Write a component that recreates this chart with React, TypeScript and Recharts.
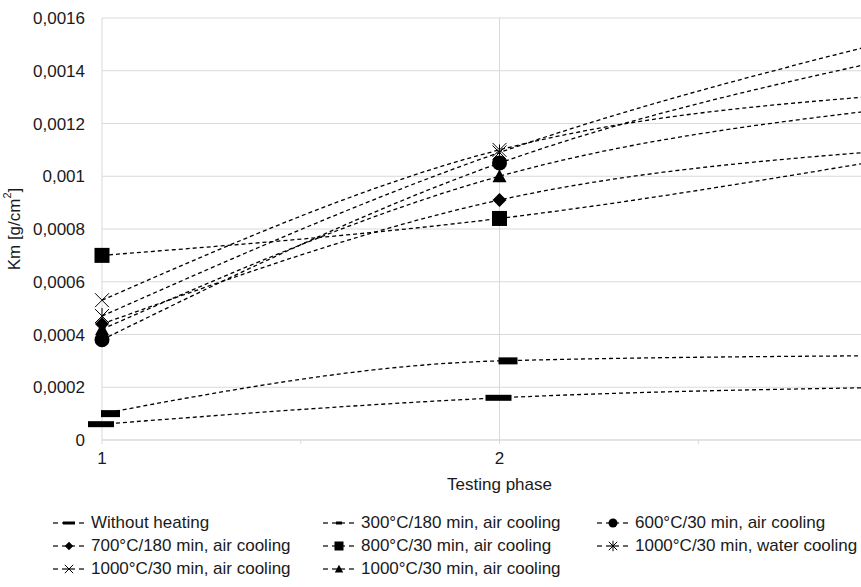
import React from 'react';
import { LineChart, Line, XAxis, YAxis, CartesianGrid, Label } from 'recharts';

// ---- data ----
const phases = [1, 2, 3];
const withoutHeating = [0.00006, 0.00016, 0.0002];
const c300_180 = [0.0001, 0.0003, 0.00032];
const c600_30 = [0.00038, 0.00105, 0.00145];
const c700_180 = [0.00044, 0.00091, 0.0011];
const c800_30 = [0.0007, 0.00084, 0.00107];
const c1000_water = [0.00047, 0.00109, 0.00152];
const c1000_air = [0.00053, 0.0011, 0.00131];
const c1000_air2 = [0.00042, 0.001, 0.00126];

const seriesNames = [
  'Without heating',
  '300°C/180 min, air cooling',
  '600°C/30 min, air cooling',
  '700°C/180 min, air cooling',
  '800°C/30 min, air cooling',
  '1000°C/30 min, water cooling',
  '1000°C/30 min, air cooling',
  '1000°C/30 min, air cooling',
];
const seriesValues = [withoutHeating, c300_180, c600_30, c700_180, c800_30, c1000_water, c1000_air, c1000_air2];
const markerKinds = ['wideBar', 'shortBar', 'circle', 'diamond', 'square', 'asterisk', 'cross', 'triangle'];

const xTicks = [1, 1.5, 2, 2.5, 3];
const xTickLabels = ['1', '', '2', '', ''];
const yTicks = [0, 0.0002, 0.0004, 0.0006, 0.0008, 0.001, 0.0012, 0.0014, 0.0016];
const yTickLabels = ['0', '0,0002', '0,0004', '0,0006', '0,0008', '0,001', '0,0012', '0,0014', '0,0016'];

const data = phases.map((p, i) => {
  const row: Record<string, number> = { phase: p };
  seriesValues.forEach((vals, s) => {
    row['s' + s] = vals[i];
  });
  return row;
});

const FONT = '"Liberation Sans", Arial, sans-serif';
const INK = '#000';
const TEXT = '#1a1a1a';
const FS = 17;

function Marker({ kind, cx, cy, legend }: { kind: string; cx: number; cy: number; legend?: boolean }) {
  const k = legend ? 0.6 : 1;
  switch (kind) {
    case 'wideBar':
      return legend ? (
        <rect x={cx - 6} y={cy - 1.5} width={12} height={3} fill={INK} />
      ) : (
        <rect x={cx - 14} y={cy - 3} width={26} height={6} fill={INK} />
      );
    case 'shortBar':
      return legend ? (
        <rect x={cx - 3} y={cy - 1.5} width={6} height={3} fill={INK} />
      ) : (
        <rect x={cx - 1} y={cy - 3.5} width={19} height={7} fill={INK} />
      );
    case 'circle':
      return <circle cx={cx} cy={cy} r={7.5 * k} fill={INK} />;
    case 'diamond':
      return (
        <polygon
          points={`${cx},${cy - 7 * k} ${cx + 7 * k},${cy} ${cx},${cy + 7 * k} ${cx - 7 * k},${cy}`}
          fill={INK}
        />
      );
    case 'square':
      return <rect x={cx - 7.5 * k} y={cy - 7.5 * k} width={15 * k} height={15 * k} fill={INK} />;
    case 'triangle':
      return (
        <polygon
          points={`${cx},${cy - 7 * k} ${cx + 7 * k},${cy + 6 * k} ${cx - 7 * k},${cy + 6 * k}`}
          fill={INK}
        />
      );
    case 'cross': {
      const r = 7 * k;
      return (
        <g stroke={INK} strokeWidth={1}>
          <line x1={cx - r} y1={cy - r} x2={cx + r} y2={cy + r} />
          <line x1={cx - r} y1={cy + r} x2={cx + r} y2={cy - r} />
        </g>
      );
    }
    case 'asterisk': {
      const r = 7 * k;
      return (
        <g stroke={INK} strokeWidth={1}>
          <line x1={cx - r} y1={cy - r} x2={cx + r} y2={cy + r} />
          <line x1={cx - r} y1={cy + r} x2={cx + r} y2={cy - r} />
          <line x1={cx} y1={cy - r - 1} x2={cx} y2={cy + r + 1} />
        </g>
      );
    }
    default:
      return null;
  }
}

const makeDot = (kind: string, s: number) => (props: any) => {
  const { cx, cy, index } = props;
  if (cx == null || cy == null) return <g key={`d-${s}-${index}`} />;
  return (
    <g key={`d-${s}-${index}`}>
      <Marker kind={kind} cx={cx} cy={cy} />
    </g>
  );
};

const YLabel = (props: any) => {
  const vb = props.viewBox || { x: 0, y: 18, width: 102, height: 422 };
  const x = 14;
  const y = vb.y + vb.height / 2;
  return (
    <text
      x={x}
      y={y}
      transform={`rotate(-90, ${x}, ${y})`}
      textAnchor="middle"
      dominantBaseline="central"
      fontFamily={FONT}
      fontSize={FS}
      fill={TEXT}
    >
      <tspan>Km [g/cm</tspan>
      <tspan fontSize={11} dy={-7}>2</tspan>
      <tspan dy={7}>]</tspan>
    </text>
  );
};

const XLabel = (props: any) => {
  const vb = props.viewBox || { x: 102, y: 440, width: 795, height: 47 };
  return (
    <text x={vb.x + vb.width / 2} y={vb.y + 50} textAnchor="middle" fontFamily={FONT} fontSize={FS} fill={TEXT}>
      Testing phase
    </text>
  );
};

const legendCols = [53, 323, 597];
const legendRows = [523, 546, 569];

function LegendBlock() {
  return (
    <div style={{ position: 'absolute', left: 0, top: 0, width: 861, height: 587, pointerEvents: 'none' }}>
      {seriesNames.map((name, i) => {
        const col = i % 3;
        const row = Math.floor(i / 3);
        return (
          <div
            key={i}
            style={{
              position: 'absolute',
              left: legendCols[col],
              top: legendRows[row] - 11,
              height: 22,
              display: 'flex',
              alignItems: 'center',
              fontFamily: FONT,
              fontSize: FS,
              color: TEXT,
              whiteSpace: 'nowrap',
            }}
          >
            <svg width={31} height={22} style={{ marginRight: 7 }}>
              <line x1={0} y1={11} x2={5} y2={11} stroke={INK} strokeWidth={1.2} />
              <line x1={9} y1={11} x2={22} y2={11} stroke={INK} strokeWidth={1.2} />
              <line x1={26} y1={11} x2={31} y2={11} stroke={INK} strokeWidth={1.2} />
              <Marker kind={markerKinds[i]} cx={16} cy={11} legend />
            </svg>
            <span>{name}</span>
          </div>
        );
      })}
    </div>
  );
}

export default function App() {
  return (
    <div
      style={{
        position: 'absolute',
        left: 0,
        top: 0,
        width: 861,
        height: 587,
        overflow: 'hidden',
        background: '#fff',
      }}
    >
      <LineChart
        width={920}
        height={587}
        data={data}
        margin={{ top: 18, right: 23, bottom: 100, left: 0 }}
        style={{ fontFamily: FONT }}
      >
        <CartesianGrid
          stroke="#d9d9d9"
          strokeWidth={1}
          horizontalValues={yTicks}
          verticalValues={[1, 2, 3]}
        />
        <XAxis
          dataKey="phase"
          type="number"
          domain={[1, 3]}
          ticks={xTicks}
          height={47}
          stroke="#d9d9d9"
          tickSize={4}
          tickMargin={8}
          tick={{ fill: TEXT, fontSize: FS, fontFamily: FONT }}
          tickFormatter={(v: number) => xTickLabels[xTicks.indexOf(v)] ?? ''}
        >
          <Label content={<XLabel />} />
        </XAxis>
        <YAxis
          type="number"
          domain={[0, 0.0016]}
          ticks={yTicks}
          width={102}
          axisLine={false}
          tickLine={false}
          tickSize={0}
          tickMargin={17}
          tick={{ fill: TEXT, fontSize: FS, fontFamily: FONT }}
          tickFormatter={(v: number) => yTickLabels[yTicks.findIndex((t) => Math.abs(t - v) < 1e-9)] ?? String(v)}
        >
          <Label content={<YLabel />} />
        </YAxis>
        {seriesValues.map((_, s) => (
          <Line
            key={s}
            dataKey={'s' + s}
            name={seriesNames[s]}
            type="monotone"
            stroke={INK}
            strokeWidth={1.3}
            strokeDasharray="4 3"
            dot={makeDot(markerKinds[s], s)}
            activeDot={false}
            isAnimationActive={false}
          />
        ))}
      </LineChart>
      <LegendBlock />
    </div>
  );
}
